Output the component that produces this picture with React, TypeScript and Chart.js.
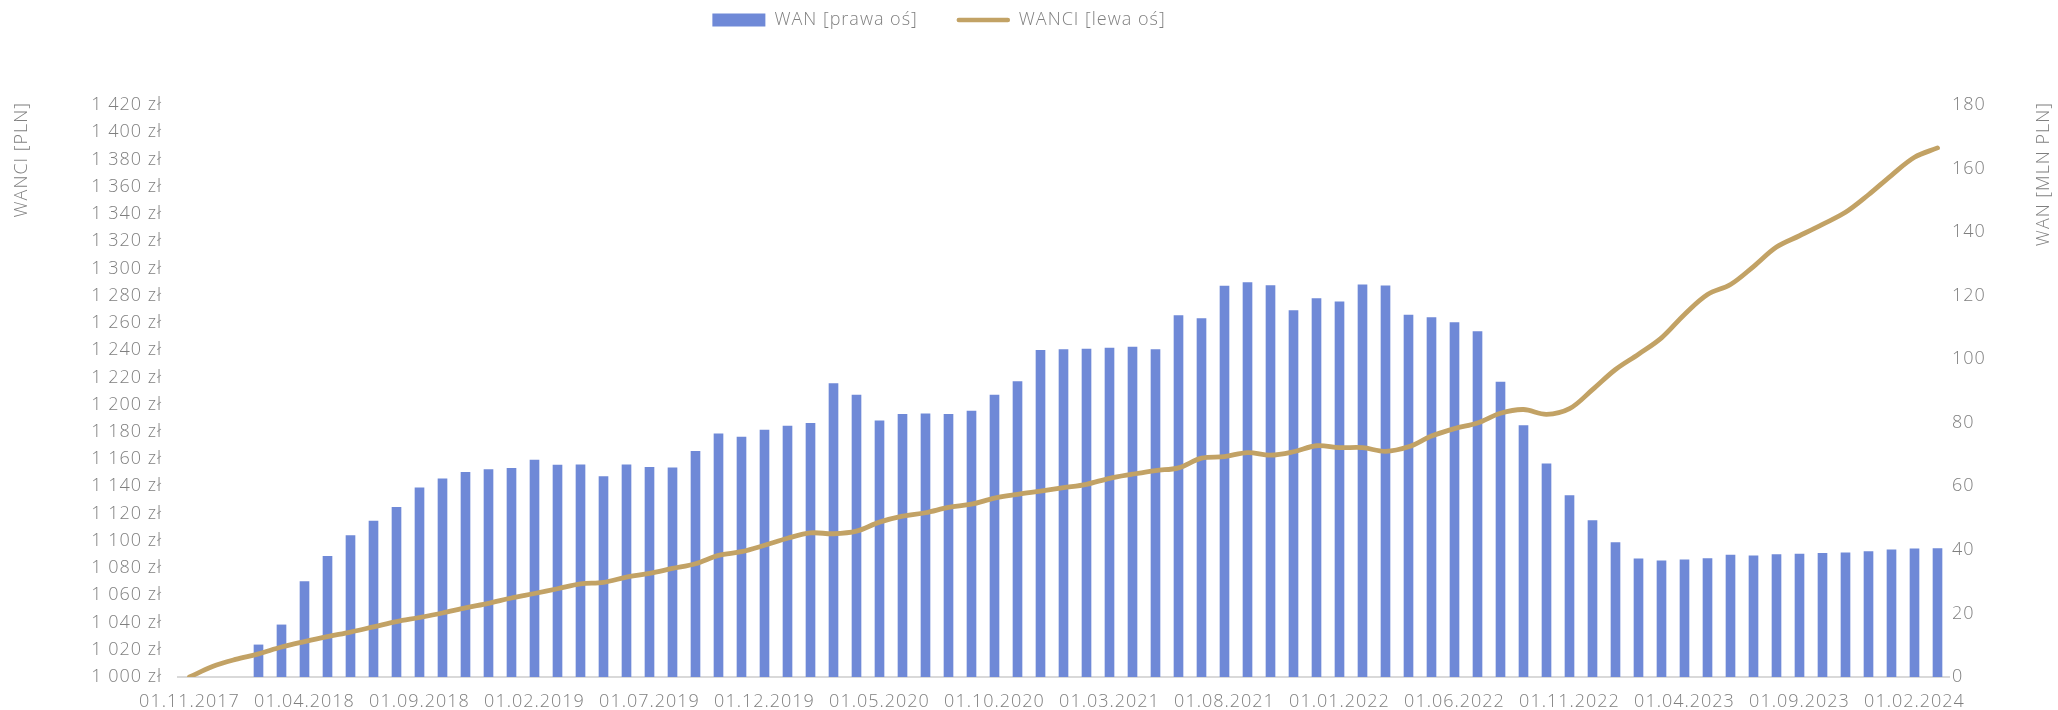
import React, { useEffect, useRef } from "react";
import { Chart, registerables } from "chart.js";

Chart.register(...registerables);

// ---------- data ----------
const months: string[] = [
  "01.11.2017", "01.12.2017",
  "01.01.2018", "01.02.2018", "01.03.2018", "01.04.2018", "01.05.2018", "01.06.2018",
  "01.07.2018", "01.08.2018", "01.09.2018", "01.10.2018", "01.11.2018", "01.12.2018",
  "01.01.2019", "01.02.2019", "01.03.2019", "01.04.2019", "01.05.2019", "01.06.2019",
  "01.07.2019", "01.08.2019", "01.09.2019", "01.10.2019", "01.11.2019", "01.12.2019",
  "01.01.2020", "01.02.2020", "01.03.2020", "01.04.2020", "01.05.2020", "01.06.2020",
  "01.07.2020", "01.08.2020", "01.09.2020", "01.10.2020", "01.11.2020", "01.12.2020",
  "01.01.2021", "01.02.2021", "01.03.2021", "01.04.2021", "01.05.2021", "01.06.2021",
  "01.07.2021", "01.08.2021", "01.09.2021", "01.10.2021", "01.11.2021", "01.12.2021",
  "01.01.2022", "01.02.2022", "01.03.2022", "01.04.2022", "01.05.2022", "01.06.2022",
  "01.07.2022", "01.08.2022", "01.09.2022", "01.10.2022", "01.11.2022", "01.12.2022",
  "01.01.2023", "01.02.2023", "01.03.2023", "01.04.2023", "01.05.2023", "01.06.2023",
  "01.07.2023", "01.08.2023", "01.09.2023", "01.10.2023", "01.11.2023", "01.12.2023",
  "01.01.2024", "01.02.2024", "01.03.2024",
];

// WAN [mln PLN] – right axis (bars)
const wan: (number | null)[] = [
  null, null, null, 10.2, 16.5, 30.1, 38.1, 44.6, 49.2, 53.5,
  59.6, 62.5, 64.5, 65.4, 65.8, 68.4, 66.8, 66.9, 63.2, 66.9,
  66.1, 65.9, 71.1, 76.6, 75.6, 77.8, 79.1, 79.9, 92.4, 88.8,
  80.7, 82.8, 82.9, 82.8, 83.8, 88.8, 93.1, 102.9, 103.1, 103.3,
  103.6, 103.9, 103.1, 113.8, 112.9, 123.1, 124.2, 123.3, 115.4, 119.2,
  118.2, 123.5, 123.2, 114.0, 113.2, 111.6, 108.8, 92.9, 79.2, 67.2,
  57.2, 49.3, 42.4, 37.3, 36.7, 37.0, 37.4, 38.5, 38.2, 38.6,
  38.8, 39.0, 39.2, 39.6, 40.1, 40.4, 40.5,
];

// WANCI [PLN] – left axis (line)
const wanci: number[] = [
  1000, 1007.7, 1012.9, 1017, 1022, 1026, 1029.7, 1033, 1036.8, 1040.7,
  1043.7, 1047, 1050.8, 1054.1, 1058, 1061.3, 1064.8, 1068.4, 1069.5, 1073.4,
  1076.1, 1079.7, 1083.2, 1089.3, 1092, 1096.7, 1101.9, 1105.8, 1105.2, 1107.1,
  1113.7, 1118.1, 1120.6, 1124.5, 1126.9, 1131.3, 1134.1, 1136.5, 1139, 1141.5,
  1145.9, 1148.9, 1151.6, 1153.6, 1160.7, 1161.8, 1164.8, 1162.9, 1165.4, 1169.8,
  1168.4, 1168.4, 1165.7, 1169, 1176.9, 1182.4, 1186.5, 1193.7, 1196.4, 1192.9,
  1197, 1211, 1225.8, 1237, 1249, 1266.2, 1280.8, 1288.2, 1301.4, 1315.7,
  1324, 1332.4, 1341.2, 1354.1, 1368.4, 1381.6, 1388.5,
];

const LEFT_MIN = 1000;
const LEFT_MAX = 1420;
const LEFT_STEP = 20;
const RIGHT_MIN = 0;
const RIGHT_MAX = 180;
const RIGHT_STEP = 20;
const LABEL_EVERY = 5;

const BAR_LABEL = "WAN [prawa oś]";
const LINE_LABEL = "WANCI [lewa oś]";
const LEFT_TITLE = "WANCI [PLN]";
const RIGHT_TITLE = "WAN [MLN PLN]";

// ---------- styles ----------
const W = 2058;
const H = 710;
const BAR_COLOR = "#6f89d7";
const LINE_COLOR = "#c2a265";
const TEXT_COLOR = "#7f7f7f";
const AXIS_COLOR = "#d9d9d9";
const FONT_FAMILY = "'Open Sans', Roboto, sans-serif";
const FONT_SIZE = 18;
const FONT_WEIGHT = 300;
const LETTER_SPACING = "1px";

function formatZl(v: number): string {
  const th = Math.floor(v / 1000);
  const rest = Math.round(v % 1000);
  const restStr = th > 0 ? String(rest).padStart(3, "0") : String(rest);
  return (th > 0 ? th + " " : "") + restStr + " zł";
}

const spacingPlugin = {
  id: "spacing",
  beforeLayout(chart: any) {
    (chart.ctx as any).letterSpacing = LETTER_SPACING;
  },
  beforeDraw(chart: any) {
    (chart.ctx as any).letterSpacing = LETTER_SPACING;
  },
};

const overlayPlugin = {
  id: "overlay",
  afterDraw(chart: any) {
    const ctx = chart.ctx as CanvasRenderingContext2D;
    ctx.save();
    (ctx as any).letterSpacing = LETTER_SPACING;
    ctx.font = `${FONT_WEIGHT} ${FONT_SIZE}px ${FONT_FAMILY}`;
    ctx.fillStyle = TEXT_COLOR;
    ctx.textBaseline = "middle";

    // legend
    const legendCenter = 939;
    const legendY = 20;
    const boxW = 53;
    const boxH = 13;
    const gapText = 9;
    const gapItems = 39;
    const w1 = ctx.measureText(BAR_LABEL).width;
    const w2 = ctx.measureText(LINE_LABEL).width;
    const total = boxW + gapText + w1 + gapItems + boxW + gapText + w2;
    let x = legendCenter - total / 2;
    ctx.fillStyle = BAR_COLOR;
    ctx.fillRect(x, legendY - boxH / 2, boxW, boxH);
    x += boxW + gapText;
    ctx.fillStyle = TEXT_COLOR;
    ctx.textAlign = "left";
    ctx.fillText(BAR_LABEL, x, legendY);
    x += w1 + gapItems;
    ctx.strokeStyle = LINE_COLOR;
    ctx.lineWidth = 4.5;
    ctx.lineCap = "round";
    ctx.beginPath();
    ctx.moveTo(x + 2, legendY);
    ctx.lineTo(x + boxW - 2, legendY);
    ctx.stroke();
    x += boxW + gapText;
    ctx.fillText(LINE_LABEL, x, legendY);

    // axis titles (rotated, reading bottom-to-top, top-aligned)
    const titleTop = chart.chartArea.top - 3;
    ctx.textAlign = "right";
    ctx.save();
    ctx.translate(22, titleTop);
    ctx.rotate(-Math.PI / 2);
    ctx.fillText(LEFT_TITLE, 0, 0);
    ctx.restore();
    ctx.save();
    ctx.translate(W - 14, titleTop);
    ctx.rotate(-Math.PI / 2);
    ctx.fillText(RIGHT_TITLE, 0, 0);
    ctx.restore();

    ctx.restore();
  },
};

export default function App() {
  const canvasRef = useRef<HTMLCanvasElement | null>(null);

  useEffect(() => {
    if (!canvasRef.current) return;
    Chart.defaults.font.family = FONT_FAMILY;
    Chart.defaults.font.size = FONT_SIZE;
    (Chart.defaults.font as any).weight = FONT_WEIGHT;
    Chart.defaults.color = TEXT_COLOR;

    const chart = new Chart(canvasRef.current, {
      type: "bar",
      data: {
        labels: months,
        datasets: [
          {
            type: "line",
            label: LINE_LABEL,
            data: wanci,
            yAxisID: "y",
            borderColor: LINE_COLOR,
            backgroundColor: LINE_COLOR,
            borderWidth: 4.8,
            pointRadius: 0,
            tension: 0.35,
            borderCapStyle: "round",
            borderJoinStyle: "round",
            order: 0,
          } as any,
          {
            type: "bar",
            label: BAR_LABEL,
            data: wan,
            yAxisID: "y1",
            backgroundColor: BAR_COLOR,
            borderWidth: 0,
            barPercentage: 0.42,
            categoryPercentage: 1,
            order: 1,
          } as any,
        ],
      },
      options: {
        responsive: false,
        animation: false,
        maintainAspectRatio: false,
        layout: { padding: { left: 0, right: 0, top: 105, bottom: 0 } },
        plugins: {
          legend: { display: false },
          tooltip: { enabled: false },
          title: { display: false },
        },
        scales: {
          x: {
            type: "category",
            offset: true,
            grid: { display: false, drawTicks: false },
            border: { display: true, color: AXIS_COLOR, width: 2 },
            ticks: {
              autoSkip: false,
              maxRotation: 0,
              minRotation: 0,
              padding: 14,
              color: TEXT_COLOR,
              callback: (_v: any, i: number) => (i % LABEL_EVERY === 0 ? months[i] : ""),
            },
            afterFit: (scale: any) => {
              scale.height = H - 677;
            },
          },
          y: {
            type: "linear",
            position: "left",
            min: LEFT_MIN,
            max: LEFT_MAX,
            grid: { display: false, drawTicks: false },
            border: { display: false },
            ticks: {
              stepSize: LEFT_STEP,
              padding: 16,
              color: TEXT_COLOR,
              callback: (v: any) => formatZl(Number(v)),
            },
            afterFit: (scale: any) => {
              scale.width = 178;
            },
          },
          y1: {
            type: "linear",
            position: "right",
            min: RIGHT_MIN,
            max: RIGHT_MAX,
            grid: { display: false, drawTicks: false },
            border: { display: false },
            ticks: {
              stepSize: RIGHT_STEP,
              padding: 3,
              color: TEXT_COLOR,
            },
            afterFit: (scale: any) => {
              scale.width = W - 1949;
            },
          },
        },
      },
      plugins: [spacingPlugin, overlayPlugin],
    });

    return () => chart.destroy();
  }, []);

  return (
    <div style={{ position: "absolute", left: 0, top: 0, width: W, height: H, background: "#ffffff" }}>
      <canvas ref={canvasRef} width={W} height={H} style={{ display: "block", width: W, height: H }} />
    </div>
  );
}
